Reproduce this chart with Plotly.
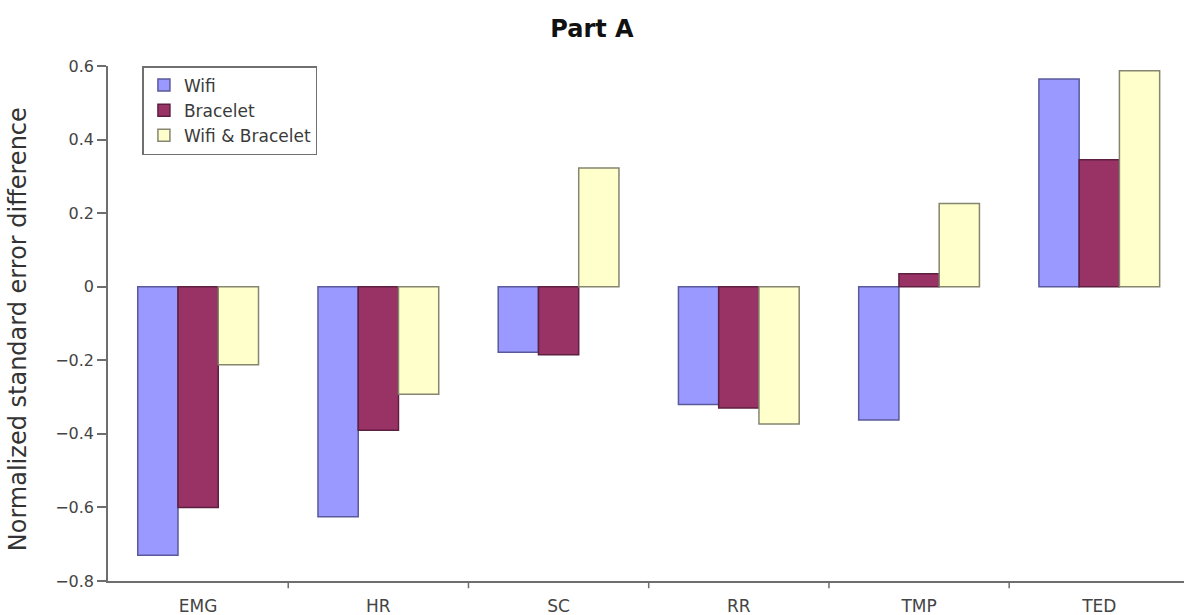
import plotly.graph_objects as go

# Categories and per-series values
categories = ["EMG", "HR", "SC", "RR", "TMP", "TED"]
wifi = [-0.73, -0.625, -0.178, -0.32, -0.362, 0.565]
bracelet = [-0.60, -0.39, -0.185, -0.33, 0.035, 0.345]
wifi_bracelet = [-0.212, -0.292, 0.323, -0.373, 0.226, 0.587]

# Y axis tick positions and their labels
y_tick_values = [-0.8, -0.6, -0.4, -0.2, 0.0, 0.2, 0.4, 0.6]
y_tick_labels = ["\u22120.8", "\u22120.6", "\u22120.4", "\u22120.2", "0", "0.2", "0.4", "0.6"]

series = [
    ("Wifi", wifi, "#9999ff", "#5a5a9a"),
    ("Bracelet", bracelet, "#993366", "#5e2040"),
    ("Wifi & Bracelet", wifi_bracelet, "#ffffcc", "#858570"),
]

fig = go.Figure()
for name, vals, fill, edge in series:
    fig.add_trace(go.Bar(
        x=categories, y=vals, name=name,
        marker=dict(color=fill, line=dict(color=edge, width=1.5)),
    ))

axis_color = "#6e6e6e"
fig.update_layout(
    width=1184, height=615,
    margin=dict(l=108, r=0, t=66, b=34),
    paper_bgcolor="white", plot_bgcolor="white",
    barmode="group", bargap=0.33, bargroupgap=0,
    font=dict(family="DejaVu Sans", color="#333333"),
    title=dict(text="<b>Part A</b>", x=0.5, xanchor="center", y=0.953,
               yanchor="middle", font=dict(size=24, color="#111111")),
    showlegend=True,
    legend=dict(
        x=0.032, y=1.0, xanchor="left", yanchor="top",
        bgcolor="white", bordercolor="#707070", borderwidth=1.5,
        font=dict(size=17, color="#3a3a3a"),
        tracegroupgap=0, itemwidth=30,
    ),
    xaxis=dict(
        range=[-0.5, 5.47], showgrid=False, zeroline=False,
        showline=True, linecolor=axis_color, linewidth=1.5,
        ticks="outside", ticklen=9, tickcolor="rgba(0,0,0,0)",
        tickfont=dict(size=17, color="#444444"),
        automargin=False,
    ),
    yaxis=dict(
        range=[-0.8, 0.6], tickvals=y_tick_values, ticktext=y_tick_labels,
        showgrid=False, zeroline=False,
        showline=True, linecolor=axis_color, linewidth=1.5,
        ticks="outside", ticklen=9, tickcolor=axis_color, tickwidth=1.5,
        tickfont=dict(size=16, color="#444444"),
        automargin=False,
    ),
)

# Vertical y axis title
fig.add_annotation(
    text="Normalized standard error difference",
    xref="paper", yref="paper", x=-0.0836, y=0.489,
    xanchor="center", yanchor="middle", textangle=-90, showarrow=False,
    font=dict(size=24, color="#333333"),
)

# Divider ticks between category groups along the x axis
for i in range(1, len(categories)):
    fig.add_shape(type="line", xref="x", yref="paper",
                  x0=i - 0.5, x1=i - 0.5, y0=0, y1=-0.014,
                  line=dict(color=axis_color, width=1.5))

fig.write_html("out.html")
